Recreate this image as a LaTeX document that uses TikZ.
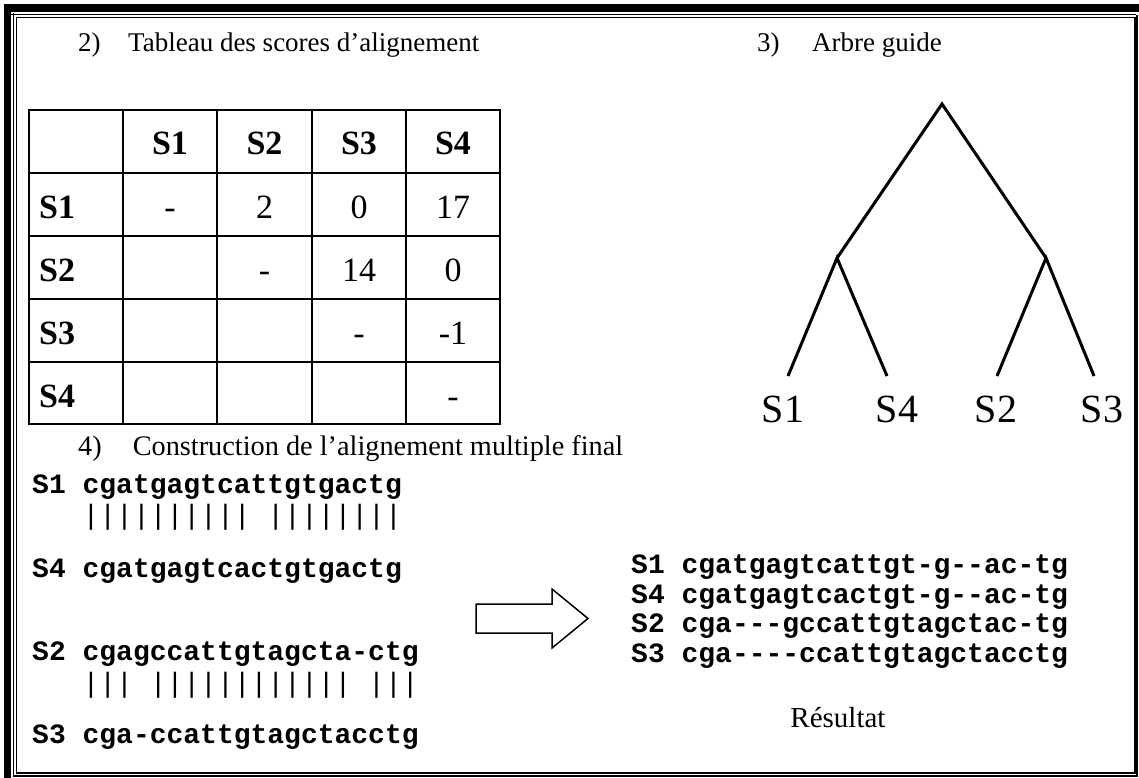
\documentclass[tikz,border=0pt]{standalone}
\usepackage{fontspec}
\setmainfont{Liberation Serif}
\newfontfamily\seqfont{Liberation Mono}
\usetikzlibrary{positioning}
\newcommand{\fsz}[1]{\fontsize{#1}{#1}\selectfont}

\begin{document}
\begin{tikzpicture}[x=1pt, y=-1pt,
    heading/.style={anchor=base west, inner sep=0pt, font=\fsz{27}},
    cell/.style={anchor=base, inner sep=0pt, font=\fsz{34}},
    head/.style={cell, font={\fsz{34}\bfseries}},
    leaf/.style={anchor=base, inner sep=0pt, font=\fsz{40}},
    seq/.style={anchor=base west, inner sep=0pt, font={\seqfont\bfseries\fsz{28}}},
    bars/.style={anchor=base west, inner sep=0pt, font={\seqfont\fsz{28}}},
    treeline/.style={line width=3pt, line join=miter},
    tabline/.style={line width=1.5pt}]
    \useasboundingbox (0,0) rectangle (1139,778);

    % Frame
    \fill (4,4) rectangle (1139,12.5);
    \fill (4,4) rectangle (11,778);
    \draw[line width=1pt] (13.5,13) -- (13.5,776);
    \draw[line width=1pt] (11,15) -- (1136,15);
    \draw[line width=1.2pt] (16.5,17.5) rectangle (1135,773);
    \draw[line width=2pt] (1137,15) -- (1137,775.5) -- (13,775.5);

    % Headings
    \node[heading] (title2) at (78,52) {2)\hspace{27.5pt}Tableau des scores d’alignement};
    \node[heading] (title3) at (757,52) {3)\hspace{32.5pt}Arbre guide};
    \node[heading, font=\fsz{28.3}] (title4) at (78,455) {4)\hspace{31pt}Construction de l’alignement multiple final};

    % Table of scores
    \draw[tabline] (29,110) rectangle (500,424);
    \foreach \x in {123,217,312,406} {
        \draw[tabline] (\x,110) -- (\x,424);
    }
    \foreach \y in {173,236,299,362} {
        \draw[tabline] (29,\y) -- (500,\y);
    }
    \foreach \n/\x in {1/170,2/264.5,3/359,4/453} {
        \node[head] (h\n) at (\x,155) {S\n};
    }
    \foreach \n/\y in {1/218,2/281,3/344,4/407} {
        \node[head, anchor=base west] (r\n) at (39,\y) {S\n};
    }
    \node[cell] (v11) at (170,218) {-};
    \node[cell] (v12) at (264.5,218) {2};
    \node[cell] (v13) at (359,218) {0};
    \node[cell] (v14) at (453,218) {17};
    \node[cell] (v22) at (264.5,281) {-};
    \node[cell] (v23) at (359,281) {14};
    \node[cell] (v24) at (453,281) {0};
    \node[cell] (v33) at (359,344) {-};
    \node[cell] (v34) at (453,344) {-1};
    \node[cell] (v44) at (453,407) {-};

    % Guide tree
    \coordinate (root) at (942,104);
    \coordinate (nA) at (837,258);
    \coordinate (nB) at (1046,258);
    \coordinate (t1) at (788,376);
    \coordinate (t4) at (887,376);
    \coordinate (t2) at (997,376);
    \coordinate (t3) at (1094,376);
    \node[leaf] (l1) at (783,422) {S1};
    \node[leaf] (l4) at (897,422) {S4};
    \node[leaf] (l2) at (996,422) {S2};
    \node[leaf] (l3) at (1102,422) {S3};
    \draw[treeline] (nA) -- (root) -- (nB);
    \draw[treeline] (t1) -- (nA) -- (t4);
    \draw[treeline] (t2) -- (nB) -- (t3);

    % Pairwise alignments
    \node[seq] (p1) at (32,493) {S1 cgatgagtcattgtgactg};
    \node[bars] (m14) at (32,524) {\ \ \ ||||||||||\ ||||||||};
    \node[seq] (p4) at (32,577) {S4 cgatgagtcactgtgactg};
    \node[seq] (p2) at (32,660) {S2 cgagccattgtagcta-ctg};
    \node[bars] (m23) at (32,692) {\ \ \ |||\ ||||||||||||\ |||};
    \node[seq] (p3) at (32,743) {S3 cga-ccattgtagctacctg};

    % Arrow
    \draw[line width=1.5pt, line join=miter] (476,604) -- (552,604) -- (552,589) -- (588,618.5)
        -- (552,648) -- (552,633) -- (476,633) -- cycle;

    % Final alignment
    \node[seq] (f1) at (631,573) {S1 cgatgagtcattgt-g--ac-tg};
    \node[seq] (f4) at (631,603) {S4 cgatgagtcactgt-g--ac-tg};
    \node[seq] (f2) at (631,632) {S2 cga---gccattgtagctac-tg};
    \node[seq] (f3) at (631,662) {S3 cga----ccattgtagctacctg};
    \node[anchor=base, inner sep=0pt, font=\fsz{29}] (res) at (838,727) {Résultat};
\end{tikzpicture}
\end{document}
